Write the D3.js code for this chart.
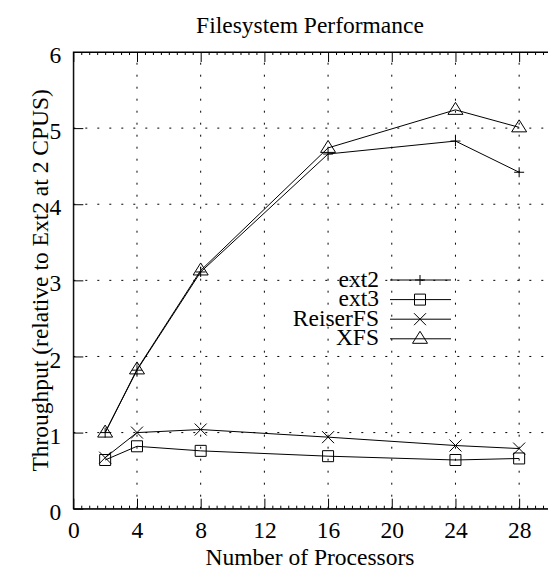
<!DOCTYPE html>
<html>
<head>
<meta charset="utf-8">
<script src="https://cdn.jsdelivr.net/npm/d3@7.9.0/dist/d3.min.js"></script>
<style>
  html, body { margin: 0; padding: 0; background: #fff; }
  svg { display: block; }
  text { font-family: 'Liberation Serif', 'Times New Roman', serif; font-size: 23.5px; fill: #000; }
</style>
</head>
<body>
<svg id="chart" width="548" height="569"></svg>
<script>
// data
const cpus = [2, 4, 8, 16, 24, 28];
const ext2 = [1.0, 1.82, 3.11, 4.66, 4.83, 4.42];
const ext3 = [0.64, 0.82, 0.76, 0.69, 0.64, 0.66];
const reiserfs = [0.67, 1.0, 1.04, 0.94, 0.83, 0.79];
const xfs = [1.0, 1.83, 3.13, 4.74, 5.24, 5.01];

const seriesNames = ['ext2', 'ext3', 'ReiserFS', 'XFS'];
const seriesValues = [ext2, ext3, reiserfs, xfs];
const seriesMarks = ['plus', 'square', 'cross', 'triangle'];

const xTicks = [0, 4, 8, 12, 16, 20, 24, 28];
const yTicks = [0, 1, 2, 3, 4, 5, 6];

const svg = d3.select('#chart');

// plot box (right edge falls just outside the picture)
const boxL = 73.3, boxR = 551, boxT = 52, boxB = 508.7;

const x = d3.scaleLinear().domain([0, 30]).range([boxL, boxR]);
const y = d3.scaleLinear().domain([0, 6]).range([boxB, boxT]);

// marker shapes, drawn around (0,0)
function markPath(kind) {
  if (kind === 'plus') return 'M-5,0H5M0,-5V5';
  if (kind === 'square') return 'M-5.5,-5.5H5.5V5.5H-5.5Z';
  if (kind === 'cross') return 'M-6,-6L6,6M-6,6L6,-6';
  return 'M0,-7.5L7.5,4.5H-7.5Z';
}

// dotted grid
const grid = svg.append('g').attr('stroke', '#000').attr('stroke-width', 1)
  .attr('stroke-dasharray', '2,10');
xTicks.filter((d) => d > 0).forEach((d) => {
  grid.append('line')
    .attr('x1', x(d)).attr('x2', x(d))
    .attr('y1', y(0)).attr('y2', y(6));
});
yTicks.filter((d) => d > 0 && d < 6).forEach((d) => {
  grid.append('line')
    .attr('x1', x(0)).attr('x2', x(30))
    .attr('y1', y(d)).attr('y2', y(d));
});

// minor ticks every half processor on bottom and top
const minor = d3.range(0, 30.01, 0.5).filter((d) => d % 4 !== 0);
svg.append('g').attr('transform', `translate(0,${boxB})`)
  .call(d3.axisBottom(x).tickValues(minor).tickSizeInner(-3).tickSizeOuter(0).tickFormat(''))
  .call((g) => g.select('.domain').remove());
svg.append('g').attr('transform', `translate(0,${boxT})`)
  .call(d3.axisTop(x).tickValues(minor).tickSizeInner(-3).tickSizeOuter(0).tickFormat(''))
  .call((g) => g.select('.domain').remove());

// major axes, ticks pointing into the plot
const xAxis = svg.append('g').attr('transform', `translate(0,${boxB})`)
  .call(d3.axisBottom(x).tickValues(xTicks).tickFormat(d3.format('d'))
    .tickSizeInner(-10).tickSizeOuter(0).tickPadding(0));
xAxis.selectAll('text').attr('y', 29.8).attr('dy', null);

svg.append('g').attr('transform', `translate(0,${boxT})`)
  .call(d3.axisTop(x).tickValues(xTicks).tickSizeInner(-10).tickSizeOuter(0).tickFormat(''));

const yAxis = svg.append('g').attr('transform', `translate(${boxL},0)`)
  .call(d3.axisLeft(y).tickValues(yTicks).tickFormat(d3.format('d'))
    .tickSizeInner(-10).tickSizeOuter(0).tickPadding(12));
yAxis.selectAll('text').attr('dy', '0.45em');

svg.selectAll('.domain').attr('stroke', '#000');
svg.selectAll('.tick line').attr('stroke', '#000');
svg.selectAll('.tick text').style('font-family', "'Liberation Serif', 'Times New Roman', serif")
  .style('font-size', '23.5px');

// border box
svg.append('rect')
  .attr('x', boxL).attr('y', boxT)
  .attr('width', boxR - boxL).attr('height', boxB - boxT)
  .attr('fill', 'none').attr('stroke', '#000').attr('stroke-width', 1);

// series
const line = d3.line().x((d) => x(d[0])).y((d) => y(d[1]));
seriesValues.forEach((vals, i) => {
  const pts = cpus.map((c, j) => [c, vals[j]]);
  svg.append('path')
    .attr('d', line(pts))
    .attr('fill', 'none').attr('stroke', '#000').attr('stroke-width', 1);
  svg.append('g').selectAll('path').data(pts).join('path')
    .attr('transform', (d) => `translate(${x(d[0])},${y(d[1])})`)
    .attr('d', markPath(seriesMarks[i]))
    .attr('fill', 'none').attr('stroke', '#000').attr('stroke-width', 1);
});

// legend
const legend = svg.append('g');
seriesNames.forEach((name, i) => {
  const ry = 280 + i * 19.6;
  legend.append('text').attr('x', 379).attr('y', ry + 6.5)
    .attr('text-anchor', 'end').text(name);
  legend.append('line').attr('x1', 390).attr('x2', 451).attr('y1', ry).attr('y2', ry)
    .attr('stroke', '#000');
  legend.append('path').attr('transform', `translate(420,${ry})`)
    .attr('d', markPath(seriesMarks[i]))
    .attr('fill', 'none').attr('stroke', '#000');
});

// titles
svg.append('text').attr('x', 310).attr('y', 33).attr('text-anchor', 'middle')
  .text('Filesystem Performance');
svg.append('text').attr('x', 310).attr('y', 565).attr('text-anchor', 'middle')
  .text('Number of Processors');
svg.append('text')
  .attr('transform', `translate(48,${(boxT + boxB) / 2}) rotate(-90)`)
  .attr('text-anchor', 'middle')
  .text('Throughput (relative to Ext2 at 2 CPUS)');
</script>
</body>
</html>
